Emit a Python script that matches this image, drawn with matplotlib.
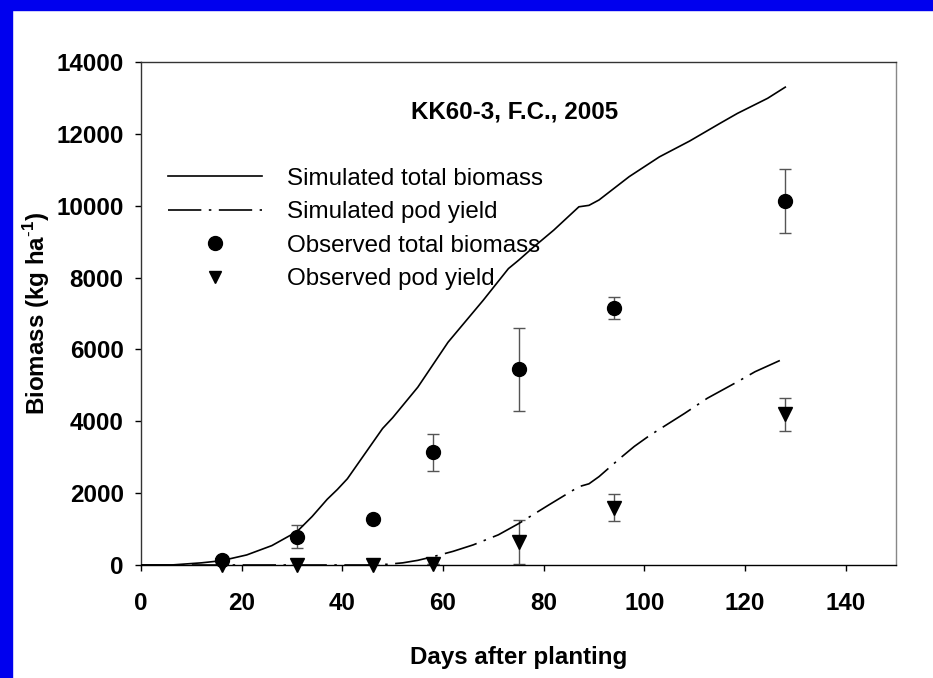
import matplotlib
matplotlib.use("Agg")
import matplotlib.pyplot as plt
from matplotlib.patches import Rectangle
from matplotlib.lines import Line2D

plt.rcParams['font.family'] = ['Liberation Sans', 'DejaVu Sans']
plt.rcParams['mathtext.fontset'] = 'custom'
plt.rcParams['mathtext.rm'] = 'Liberation Sans'
plt.rcParams['mathtext.bf'] = 'Liberation Sans:bold'

# Simulated curves
sim_days = [0, 6, 8, 12, 16, 21, 26, 31, 34, 37, 39, 41, 43, 45, 48, 50, 55, 61, 68, 73,
            75, 78, 82, 87, 89, 91, 97, 103, 109, 115, 118.5, 124.5, 128]
sim_total = [0, 0, 20, 60, 120, 280, 540, 930, 1350, 1830, 2100, 2400, 2800, 3200, 3800,
             4100, 4950, 6200, 7370, 8250, 8480, 8850, 9320, 9970, 10010, 10160, 10810,
             11360, 11800, 12290, 12570, 12990, 13300]
pod_days = [0, 45, 49, 52, 55, 58, 62, 66, 71, 75, 81, 87, 89, 91, 95, 98, 101, 108,
            112.5, 118.5, 122, 128]
sim_pod = [0, 0, 20, 60, 130, 230, 380, 560, 840, 1150, 1670, 2180, 2260, 2460, 2950,
           3300, 3600, 4220, 4640, 5100, 5380, 5760]

# Observations
obs_days = [16, 31, 46, 58, 75, 94, 128]
obs_total = [130, 790, 1270, 3140, 5450, 7150, 10130]
obs_total_err = [0, 310, 60, 520, 1150, 300, 900]
obs_pod = [0, 0, 0, 30, 640, 1600, 4200]
obs_pod_err = [0, 0, 0, 0, 610, 370, 460]

FS = 17.4
fig = plt.figure(figsize=(9.33, 6.78), dpi=100)
fig.patches.append(Rectangle((0, 0), 12 / 933, 1, transform=fig.transFigure,
                             color='#0000EE', zorder=0))
fig.patches.append(Rectangle((0, 1 - 10 / 678), 1, 10 / 678, transform=fig.transFigure,
                             color='#0000EE', zorder=0))

ax = fig.add_axes([141 / 933, 113 / 678, 755 / 933, 503 / 678])

ax.plot(sim_days, sim_total, color='black', lw=1.2, zorder=3)
ax.plot(pod_days, sim_pod, color='black', lw=1.2, linestyle=(0, (20, 4.5, 1.5, 4.5)), zorder=3)
ax.errorbar(obs_days, obs_total, yerr=obs_total_err, fmt='none', ecolor='#555555',
            elinewidth=1.0, capsize=4, capthick=1.0, zorder=2)
ax.errorbar(obs_days, obs_pod, yerr=obs_pod_err, fmt='none', ecolor='#555555',
            elinewidth=1.0, capsize=4, capthick=1.0, zorder=2)
ax.plot(obs_days, obs_pod, 'v', color='black', ms=10, zorder=4, clip_on=False)
ax.plot(obs_days, obs_total, 'o', color='black', ms=10, zorder=5, clip_on=False)

ax.set_xlim(0, 150)
ax.set_ylim(0, 14000)
ax.set_xticks(range(0, 141, 20))
ax.set_yticks(range(0, 14001, 2000))
ax.tick_params(axis='both', direction='out', length=4.5, width=1.0, labelsize=FS)
ax.tick_params(axis='x', pad=15)
ax.tick_params(axis='y', pad=8)
for lab in ax.get_xticklabels() + ax.get_yticklabels():
    lab.set_fontweight('bold')

ax.spines['left'].set_color('#333333')
ax.spines['top'].set_color('#333333')
ax.spines['right'].set_color('#888888')
ax.spines['bottom'].set_color('black')
for s in ax.spines.values():
    s.set_linewidth(1.0)

ax.set_xlabel('Days after planting', fontsize=FS, fontweight='bold', labelpad=22)
ax.set_ylabel('Biomass (kg ha$^{\\mathbf{\\text{-}1}}$)', fontsize=FS, fontweight='bold',
              labelpad=3)

ax.text(0.495, 0.887, 'KK60-3, F.C., 2005', transform=ax.transAxes, ha='center',
        va='baseline', fontsize=FS, fontweight='bold')

handles = [
    Line2D([], [], color='black', lw=1.2),
    Line2D([], [], color='black', lw=1.2, linestyle=(0, (20, 4.5, 1.5, 4.5))),
    Line2D([], [], color='black', marker='o', ms=10, linestyle='none'),
    Line2D([], [], color='black', marker='v', ms=8, linestyle='none'),
]
labels = ['Simulated total biomass', 'Simulated pod yield', 'Observed total biomass',
          'Observed pod yield']
ax.legend(handles, labels, loc='upper left', bbox_to_anchor=(0.036, 0.79), frameon=False,
          fontsize=FS, handlelength=3.9, handletextpad=1.0, labelspacing=0.48,
          borderpad=0, borderaxespad=0, numpoints=1)

fig.savefig('out.png', dpi=100)
